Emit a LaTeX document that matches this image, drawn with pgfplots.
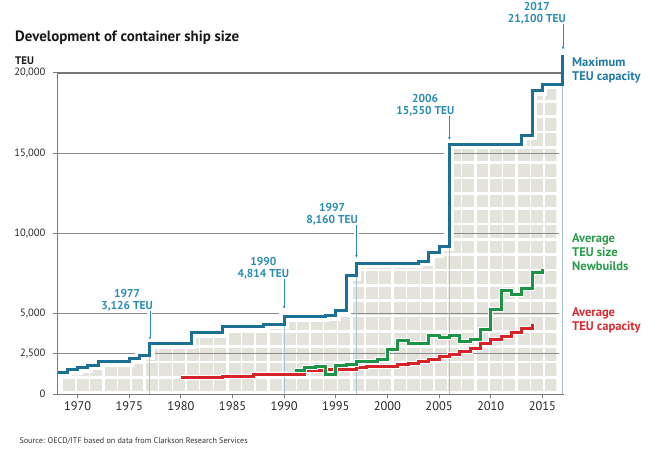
\documentclass[border=0pt]{standalone}
\usepackage{fontspec}
\setmainfont{PT Sans}
\usepackage{pgfplots}
\usepackage{pgfplotstable}
\pgfplotsset{compat=1.18}
\usetikzlibrary{arrows.meta}

\definecolor{maxc}{HTML}{1C7096}
\definecolor{lblue}{HTML}{2B8CB4}
\definecolor{maxlab}{HTML}{1F7BA5}
\definecolor{greenc}{HTML}{1B9447}
\definecolor{greenlab}{HTML}{2A9B4C}
\definecolor{redc}{HTML}{D62229}
\definecolor{redlab}{HTML}{DA2A30}
\definecolor{gridc}{HTML}{8C8C8C}
\definecolor{blockc}{HTML}{E3E2DB}
\definecolor{vlinec}{HTML}{A9C5D5}
\definecolor{axc}{HTML}{7A7A7A}

% Maximum TEU capacity (value holds from year onwards)
\pgfplotstableread{
year teu
1968 1330
1969 1500
1970 1640
1971 1790
1972 2000
1975 2200
1976 2420
1977 3126
1981 3830
1984 4210
1988 4350
1990 4814
1994 4875
1995 5200
1996 7380
1997 8160
2003 8270
2004 8790
2005 9200
2006 15550
2013 16130
2014 18900
2015 19300
2017 21100
}\maxdata

% same curve, restricted to the shaded block area
\pgfplotstableread{
year teu
1968.55 1330
1969 1500
1970 1640
1971 1790
1972 2000
1975 2200
1976 2420
1977 3126
1981 3830
1984 4210
1988 4350
1990 4814
1994 4875
1995 5200
1996 7380
1997 8160
2003 8270
2004 8790
2005 9200
2006 15550
2013 16130
2014 18900
2015 19300
2016.35 19300
}\filldata

% Average TEU size of newbuilds
\pgfplotstableread{
year teu
1991 1440
1992 1650
1993 1710
1994 1190
1995 1750
1996 1850
1997 2020
1999 2125
2000 2790
2001 3310
2002 3170
2004 3620
2005 3520
2006 3650
2007 3270
2008 3420
2009 4000
2010 5290
2011 6460
2012 6190
2013 6560
2014 7540
2015 7800
}\newdata

% Average TEU capacity
\pgfplotstableread{
year teu
1980 1020
1984 1120
1987 1230
1992 1440
1994 1520
1997 1650
1998 1710
2001 1810
2002 1920
2003 2020
2004 2180
2005 2320
2006 2450
2007 2650
2008 2850
2009 3125
2010 3375
2011 3580
2012 3830
2013 4060
2014 4380
}\avgdata

\begin{document}
\begin{tikzpicture}
\useasboundingbox (0,0) rectangle (651bp,457bp);
\begin{axis}[
  at={(57bp,63bp)}, anchor=south west,
  scale only axis, width=506.5bp, height=321bp,
  xmin=1968, xmax=2017.05, ymin=0, ymax=20000,
  axis x line*=bottom, axis y line*=left,
  axis line style={axc, line width=1bp, -},
  clip=false, axis on top, scaled y ticks=false,
  xtick={1970,1975,1980,1985,1990,1995,2000,2005,2010,2015},
  xticklabels={1970,1975,1980,1985,1990,1995,2000,2005,2010,2015},
  ytick={0,2500,5000,10000,15000,20000},
  yticklabels={0,{2,500},{5,000},{10,000},{15,000},{20,000}},
  tick align=outside, major tick length=4bp,
  tick style={axc, line width=1bp},
  xticklabel style={font=\fontsize{12.5}{14}\selectfont, text=black!85},
  yticklabel style={font=\fontsize{10.6}{13}\selectfont, text=black!85, xshift=-4bp},
]
% shaded container blocks
\addplot[const plot, fill=blockc, draw=none] table[x=year,y=teu]{\filldata} \closedcycle;
\pgfplotsinvokeforeach{1969.833,1971.167,1973.833,1975.167,1977.833,1979.167,1981.833,1983.167,1985.833,1987.167,1989.833,1991.167,1993.833,1995.167,1997.833,1999.167,2001.833,2003.167,2005.833,2007.167,2009.833,2011.167,2013.833,2015.167}{
  \draw[white, line width=1.2bp] (axis cs:#1,0) -- (axis cs:#1,20000);}
\pgfplotsinvokeforeach{1968.5,1972.5,...,2016.5}{
  \draw[white, line width=2.6bp] (axis cs:#1,0) -- (axis cs:#1,20000);}
\pgfplotsinvokeforeach{75,1031,1987,2943,3899,4855,5811,6767,7723,8679,9635,10591,11547,12503,13459,14415,15371,16327,17283,18239,19195}{
  \draw[white, line width=2.6bp] (axis cs:1968.2,#1) -- (axis cs:2016.9,#1);}
% grid lines
\draw[gridc, line width=1.2bp] (axis cs:1968,2500) -- (axis cs:2016.6,2500);
\draw[gridc, line width=1.2bp] (axis cs:1968,5000) -- (axis cs:2016.6,5000);
\draw[gridc, line width=1.2bp] (axis cs:1968,10000) -- (axis cs:2016.6,10000);
\draw[gridc, line width=1.2bp] (axis cs:1968,15000) -- (axis cs:2016.6,15000);
% halo of the maximum curve
\addplot[const plot, white, line width=10bp, line cap=rect] table[x=year,y=teu]{\maxdata};
\draw[gridc!85!black, line width=1.2bp] (axis cs:1968,20000) -- (axis cs:2017,20000);
% light vertical reference lines
\draw[vlinec, line width=1bp] (axis cs:1977,0) -- (axis cs:1977,2420);
\draw[vlinec, line width=1bp] (axis cs:1990,0) -- (axis cs:1990,4350);
\draw[vlinec, line width=1bp] (axis cs:1997,0) -- (axis cs:1997,7380);
\draw[vlinec, line width=1bp] (axis cs:2006,0) -- (axis cs:2006,9200);
\draw[vlinec, line width=1bp] (axis cs:2017,0) -- (axis cs:2017,19300);
% average capacity
\addplot[const plot, white, line width=5bp] table[x=year,y=teu]{\avgdata};
\addplot[const plot, redc, line width=3bp] table[x=year,y=teu]{\avgdata};
% newbuilds
\addplot[const plot, white, line width=5bp] table[x=year,y=teu]{\newdata};
\addplot[const plot, greenc, line width=3bp] table[x=year,y=teu]{\newdata};
% maximum
\addplot[const plot, maxc, line width=3bp] table[x=year,y=teu]{\maxdata};
% annotation arrows
\draw[white, line width=5bp] (axis cs:1977,5150) -- (axis cs:1977,3380);
\draw[lblue, line width=0.7bp, -{Latex[length=3bp,width=2.6bp]}] (axis cs:1977,5150) -- (axis cs:1977,3380);
\draw[white, line width=5bp] (axis cs:1990,7150) -- (axis cs:1990,5300);
\draw[lblue, line width=0.7bp, -{Latex[length=3bp,width=2.6bp]}] (axis cs:1990,7150) -- (axis cs:1990,5300);
\draw[white, line width=5bp] (axis cs:1997,10500) -- (axis cs:1997,8480);
\draw[lblue, line width=0.7bp, -{Latex[length=3bp,width=2.6bp]}] (axis cs:1997,10500) -- (axis cs:1997,8480);
\draw[white, line width=5bp] (axis cs:2006,17300) -- (axis cs:2006,15820);
\draw[lblue, line width=0.7bp, -{Latex[length=3bp,width=2.6bp]}] (axis cs:2006,17300) -- (axis cs:2006,15820);
\draw[lblue, line width=0.7bp, -{Latex[length=3bp,width=2.6bp]}] (axis cs:2017,23050) -- (axis cs:2017,21450);
\tikzset{lab/.style={anchor=south east, align=center, inner sep=0pt, text=lblue,
  font=\bfseries\fontsize{11.5}{12}\selectfont}}
\node[lab] at ([xshift=3bp]axis cs:1977,5150) {1977\\3,126 TEU};
\node[lab] at ([xshift=5bp]axis cs:1990,7150) {1990\\4,814 TEU};
\node[lab] at ([xshift=1.5bp]axis cs:1997,10500) {1997\\8,160 TEU};
\node[lab] at ([xshift=5bp]axis cs:2006,17300) {2006\\15,550 TEU};
\node[lab] at ([xshift=3bp]axis cs:2017,23050) {2017\\21,100 TEU};
\end{axis}
\tikzset{side/.style={anchor=north west, align=left, inner sep=0pt,
  font=\bfseries\fontsize{12.6}{14.3}\selectfont}}
\node[side, text=maxlab] at (572bp,399.5bp) {Maximum\\TEU capacity};
\node[side, text=greenlab] at (572bp,224bp) {Average\\TEU size\\Newbuilds};
\node[side, text=redlab] at (572bp,149.5bp) {Average\\TEU capacity};
\node[anchor=base west, inner sep=0pt, font=\bfseries\fontsize{15}{17}\selectfont, text=black!90] at (15bp,415.6bp) {Development of container ship size};
\node[anchor=base west, inner sep=0pt, font=\bfseries\fontsize{11}{13}\selectfont, text=black!90] at (15bp,392bp) {TEU};
\node[anchor=base west, inner sep=0pt, font=\fontsize{8.2}{10}\selectfont, text=black!80] at (19.3bp,14bp) {Source: OECD/ITF based on data from Clarkson Research Services};
\end{tikzpicture}
\end{document}
